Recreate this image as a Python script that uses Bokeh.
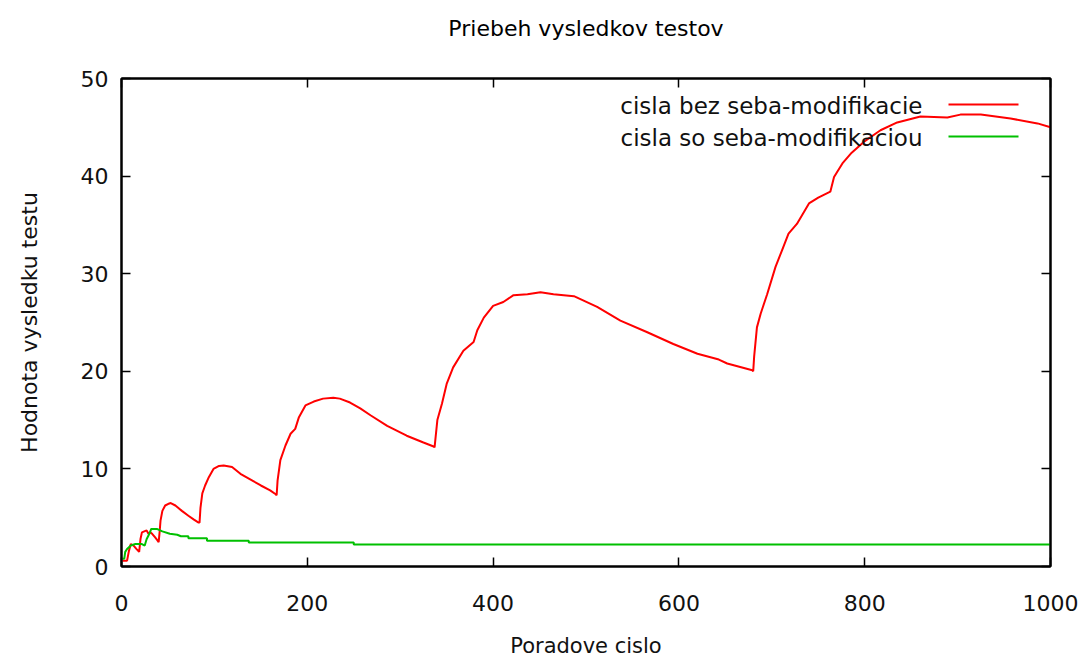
from bokeh.plotting import figure
from bokeh.models import Range1d, LinearAxis, FixedTicker, Label, BoxAnnotation, CustomLabelingPolicy
from bokeh.embed import file_html
from bokeh.resources import INLINE

# ---- data ----
title_text = "Priebeh vysledkov testov"
x_label = "Poradove cislo"
y_label = "Hodnota vysledku testu"
series_names = ["cisla bez seba-modifikacie", "cisla so seba-modifikaciou"]
series_colors = ["#ff0000", "#00c000"]
x_ticks = [0, 200, 400, 600, 800, 1000]
y_ticks = [0, 10, 20, 30, 40, 50]

x_bez = [1, 6, 8, 10, 13, 16, 19, 20.5, 22, 27, 29, 31, 33, 36, 38.5, 40, 41, 42, 44, 47,
         50, 53, 58, 65, 72, 78, 83, 84, 85, 87, 90, 94, 99, 105, 110, 119, 128, 139, 150,
         160, 166, 167, 168, 171, 176.5, 182, 187, 191, 198, 207, 217, 228, 235, 246, 257,
         268, 286, 307, 325, 336, 337, 340, 345, 350, 357, 368, 379, 383, 390, 400, 411,
         422, 437, 451, 465, 487, 512, 537, 566, 594, 620, 643, 652, 679, 680, 681, 684,
         688, 695, 704, 711, 718, 727, 740, 750, 763, 767, 776, 786, 799, 817, 835, 860,
         889, 903, 925, 957, 986, 1000]
y_bez = [0.6, 0.6, 1.6, 2.3, 2.15, 1.8, 1.5, 2.85, 3.5, 3.7, 3.35, 3.5, 3.35, 3.0, 2.7, 2.5,
         3.5, 4.7, 5.7, 6.25, 6.4, 6.5, 6.25, 5.7, 5.2, 4.8, 4.5, 4.5, 6.0, 7.5, 8.3, 9.15,
         10.0, 10.3, 10.35, 10.2, 9.5, 8.9, 8.3, 7.8, 7.4, 7.3, 8.8, 10.9, 12.4, 13.6, 14.1,
         15.3, 16.5, 16.9, 17.2, 17.3, 17.2, 16.8, 16.2, 15.5, 14.4, 13.4, 12.7, 12.3, 12.2,
         15.0, 16.7, 18.7, 20.4, 22.1, 23.0, 24.2, 25.5, 26.7, 27.1, 27.8, 27.9, 28.1, 27.9,
         27.7, 26.6, 25.2, 24.0, 22.8, 21.8, 21.2, 20.8, 20.1, 20.0, 21.5, 24.5, 25.9, 27.9,
         30.7, 32.4, 34.1, 35.1, 37.2, 37.8, 38.4, 39.9, 41.3, 42.4, 43.5, 44.7, 45.5, 46.1,
         46.0, 46.3, 46.3, 45.9, 45.4, 45.0]

x_so = [1, 3, 4, 6, 10, 15, 22, 25, 27, 30, 32, 38, 44, 52, 60, 64, 72, 72, 92, 92, 137, 137,
        250, 250, 1000]
y_so = [0.8, 0.8, 1.5, 1.8, 2.15, 2.3, 2.3, 2.15, 2.8, 3.35, 3.85, 3.85, 3.6, 3.35, 3.25,
        3.1, 3.1, 2.9, 2.9, 2.63, 2.63, 2.46, 2.46, 2.25, 2.25]

FONT = "DejaVu Sans"

p = figure(width=1079, height=662, output_backend="svg", toolbar_location=None,
           x_range=Range1d(0, 1000), y_range=Range1d(0, 50),
           min_border_left=121, min_border_right=29, min_border_top=78, min_border_bottom=96)

p.xgrid.visible = False
p.ygrid.visible = False
p.outline_line_color = "black"
p.outline_line_width = 2
p.background_fill_color = "white"
p.border_fill_color = "white"

top_axis = LinearAxis()
right_axis = LinearAxis()
p.add_layout(top_axis, "above")
p.add_layout(right_axis, "right")

for ax, ticks in ((p.xaxis, x_ticks), (p.yaxis, y_ticks)):
    for a in ax:
        a.ticker = FixedTicker(ticks=ticks)
        a.major_tick_in = 9
        a.major_tick_out = 0
        a.minor_tick_in = 0
        a.minor_tick_out = 0
        a.major_tick_line_color = "black"
        a.major_tick_line_width = 1.5
        a.axis_line_color = "black"
        a.axis_line_width = 2
        a.major_label_text_font = FONT
        a.major_label_text_font_size = "22px"
        a.major_label_text_color = "#111111"
        a.axis_label_text_font = FONT
        a.axis_label_text_font_size = "22px"
        a.axis_label_text_font_style = "normal"
        a.axis_label_text_color = "#111111"

# mirrored tick marks on top/right without tick labels
hide_all = CustomLabelingPolicy(code="for (const i of Array.from(indices)) { indices.unset(i) } return indices")
for a in (top_axis, right_axis):
    a.major_label_policy = hide_all
    a.major_label_text_font_size = "0px"
    a.major_label_standoff = 0

# chart title carried by the top axis so its distance from the frame is exact
top_axis.axis_label = title_text
top_axis.axis_label_standoff = 38
top_axis.axis_label_text_color = "black"

p.below[0].axis_label = x_label
p.below[0].major_label_standoff = 28
p.below[0].axis_label_standoff = 20
p.below[0].axis_label_text_font_size = "21px"
p.left[0].axis_label = y_label
p.left[0].major_label_standoff = 13
p.left[0].axis_label_standoff = 36

p.line(x_bez, y_bez, line_color=series_colors[0], line_width=2)
p.line(x_so, y_so, line_color=series_colors[1], line_width=2)

# gnuplot-style key: text right-aligned, sample line to its right
rows_y = [461, 429]
for name, col, yy in zip(series_names, series_colors, rows_y):
    p.add_layout(Label(x=801, y=yy, x_units="screen", y_units="screen", text=name,
                       text_align="right", text_baseline="middle", text_font=FONT,
                       text_font_size="23px", text_color="#111111"))
    p.add_layout(BoxAnnotation(left=827, right=897, bottom=yy, top=yy + 2,
                               left_units="screen", right_units="screen",
                               bottom_units="screen", top_units="screen",
                               fill_color=col, fill_alpha=1, line_color=None))

open("out.html", "w").write(file_html(p, INLINE))
